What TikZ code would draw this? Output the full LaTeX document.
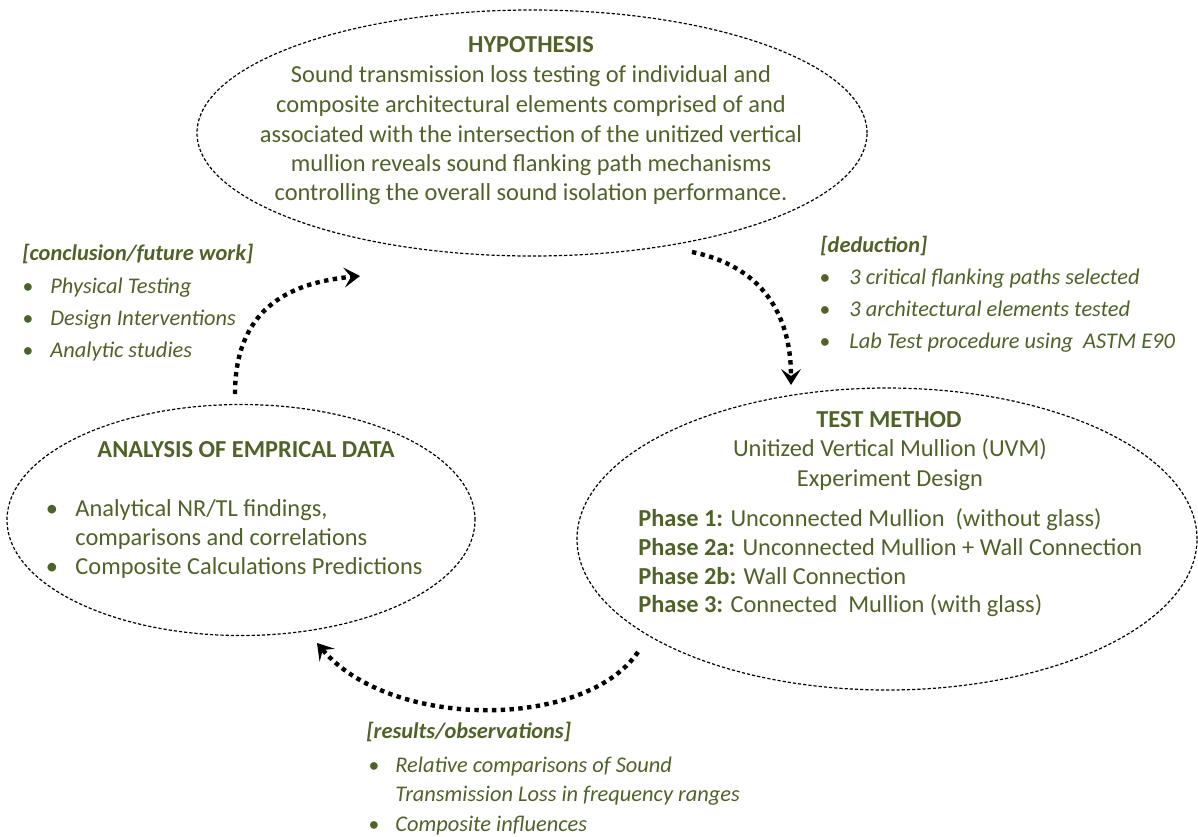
\documentclass[tikz,border=0pt]{standalone}
\usepackage{fontspec}
\setmainfont{Carlito}
\usetikzlibrary{shapes.geometric,arrows.meta}
\definecolor{olivetext}{HTML}{4F6228}
\begin{document}
\begin{tikzpicture}[x=0.5pt,y=-0.5pt,
  oval/.style={draw=black,ellipse,dash pattern=on 1.6pt off 1pt,line width=0.6pt,inner sep=0pt},
  flow/.style={draw=black,line width=2.2pt,dash pattern=on 2.2pt off 2.2pt,
    -{Stealth[length=8pt,width=10pt,inset=3.5pt,line width=0.5pt]}},
  txt/.style={text=olivetext,inner sep=0pt,text height=7pt,text depth=2pt},
  body/.style={txt,font=\fontsize{12.2}{14}\selectfont},
  bodyb/.style={txt,font=\fontsize{12.2}{14}\selectfont\bfseries},
  lst/.style={txt,font=\fontsize{11.2}{13}\selectfont\itshape},
  lsthead/.style={txt,font=\fontsize{11.2}{13}\selectfont\bfseries\itshape},
  blt/.style={txt,font=\fontsize{10.8}{13}\selectfont}
]
\useasboundingbox (0,0) rectangle (1198,836);

% ellipses
\node[oval,minimum width=335pt,minimum height=123pt] (hypo) at (532,133) {};
\node[oval,minimum width=310pt,minimum height=151pt] (test) at (887,539) {};
\node[oval,minimum width=234pt,minimum height=115.5pt] (anal) at (241,520) {};

% hypothesis text
\node[bodyb] (hyptitle) at (531,47) {HYPOTHESIS};
\node[body] (hyp1) at (531,77) {Sound transmission loss testing of individual and};
\node[body] (hyp2) at (531,107) {composite architectural elements comprised of and};
\node[body] (hyp3) at (531,137) {associated with the intersection of the unitized vertical};
\node[body] (hyp4) at (531,166) {mullion reveals sound flanking path mechanisms};
\node[body] (hyp5) at (531,195) {controlling the overall sound isolation performance.};

% test method text
\node[bodyb] (testtitle) at (889,422) {TEST METHOD};
\node[body] (test1) at (890,451) {Unitized Vertical Mullion (UVM)};
\node[body] (test2) at (890,481) {Experiment Design};
\node[body,anchor=west] (ph1) at (638,521) {\textbf{Phase 1:} Unconnected Mullion \ (without glass)};
\node[body,anchor=west] (ph2) at (638,550) {\textbf{Phase 2a:} Unconnected Mullion + Wall Connection};
\node[body,anchor=west] (ph3) at (638,579) {\textbf{Phase 2b:} Wall Connection};
\node[body,anchor=west] (ph4) at (638,607) {\textbf{Phase 3:} Connected \ Mullion (with glass)};

% analysis text
\node[bodyb] (anatitle) at (246,452) {ANALYSIS OF EMPRICAL DATA};
\node[body] (ab1) at (52,511) {•};
\node[body,anchor=west] (an1) at (75,511) {Analytical NR/TL findings,};
\node[body,anchor=west] (an2) at (75,540) {comparisons and correlations};
\node[body] (ab2) at (52,569) {•};
\node[body,anchor=west] (an3) at (75,569) {Composite Calculations Predictions};

% conclusion list
\node[lsthead,anchor=west] (conhead) at (22,255) {[conclusion/future work]};
\node[blt] (cb1) at (28,288) {•};
\node[lst,anchor=west] (con1) at (50,288) {Physical Testing};
\node[blt] (cb2) at (28,320) {•};
\node[lst,anchor=west] (con2) at (50,320) {Design Interventions};
\node[blt] (cb3) at (28,352) {•};
\node[lst,anchor=west] (con3) at (50,352) {Analytic studies};

% deduction list
\node[lsthead,anchor=west] (dedhead) at (820,247) {[deduction]};
\node[blt] (db1) at (825,279) {•};
\node[lst,anchor=west] (ded1) at (849,279) {3 critical flanking paths selected};
\node[blt] (db2) at (825,311) {•};
\node[lst,anchor=west] (ded2) at (849,311) {3 architectural elements tested};
\node[blt] (db3) at (825,343) {•};
\node[lst,anchor=west] (ded3) at (849,343) {Lab Test procedure using \ ASTM E90};

% results list
\node[lsthead,anchor=west] (reshead) at (366,733) {[results/observations]};
\node[blt] (rb1) at (374,767) {•};
\node[lst,anchor=west] (res1) at (395,767) {Relative comparisons of Sound};
\node[lst,anchor=west] (res2) at (395,796) {Transmission Loss in frequency ranges};
\node[blt] (rb2) at (374,826) {•};
\node[lst,anchor=west] (res3) at (395,826) {Composite influences};

% connector ends
\coordinate (c1s) at (235,394);
\coordinate (c1e) at (360,276);
\coordinate (c2s) at (692,252);
\coordinate (c2e) at (791,385);
\coordinate (c3s) at (638,652);
\coordinate (c3e) at (317,643);

\draw[flow] (c1s) .. controls (235,312) and (285,283) .. (c1e);
\draw[flow] (c2s) .. controls (760,266) and (791,312) .. (c2e);
\draw[flow] (c3s) .. controls (585,730) and (390,730) .. (c3e);
\end{tikzpicture}
\end{document}
